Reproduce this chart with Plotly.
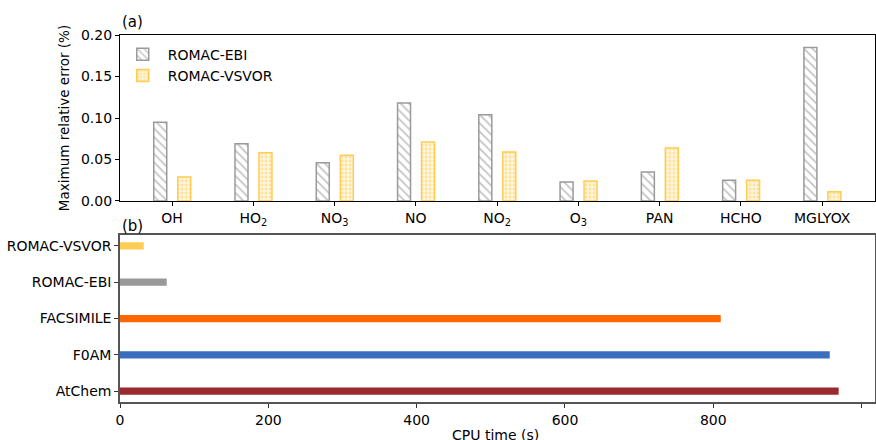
import plotly.graph_objects as go

species = ["OH", "HO<sub>2</sub>", "NO<sub>3</sub>", "NO", "NO<sub>2</sub>", "O<sub>3</sub>", "PAN", "HCHO", "MGLYOX"]
err_ebi = [0.095, 0.069, 0.046, 0.118, 0.104, 0.023, 0.035, 0.025, 0.185]
err_vsvor = [0.029, 0.058, 0.055, 0.071, 0.059, 0.024, 0.064, 0.025, 0.011]

solvers = ["AtChem", "F0AM", "FACSIMILE", "ROMAC-EBI", "ROMAC-VSVOR"]
cpu_time = [969, 957, 810, 63, 32]
solver_colors = ["#9A2A2E", "#3A6FC0", "#FF6600", "#999999", "#FFCC55"]

xpos = list(range(len(species)))
ypos = list(range(len(solvers)))

FONT = "DejaVu Sans"
FS = 14
fig = go.Figure()

fig.add_trace(go.Bar(
    x=xpos, y=err_ebi, name="ROMAC-EBI", width=0.16, offset=-0.225,
    marker=dict(color="white", line=dict(color="#9a9a9a", width=1.5),
                pattern=dict(shape="\\", fgcolor="#8a8a8a", bgcolor="white", size=6, solidity=0.3)),
    xaxis="x", yaxis="y"))
fig.add_trace(go.Bar(
    x=xpos, y=err_vsvor, name="ROMAC-VSVOR", width=0.16, offset=0.07,
    marker=dict(color="white", line=dict(color="#FFCC55", width=1.5),
                pattern=dict(shape=".", fgcolor="#FFCC55", bgcolor="#FFF6DD", size=4, solidity=0.4)),
    xaxis="x", yaxis="y"))

fig.add_trace(go.Bar(
    x=cpu_time, y=ypos, orientation="h", width=0.2, showlegend=False,
    marker=dict(color=solver_colors, line=dict(width=0)),
    xaxis="x2", yaxis="y2"))

axis_common = dict(showgrid=False, zeroline=False, ticks="outside", ticklen=4, automargin=False,
                   tickfont=dict(family=FONT, size=FS, color="black"), mirror=True, showline=True)

fig.update_layout(
    width=876, height=440,
    margin=dict(l=120, r=1, t=35, b=38, autoexpand=False),
    plot_bgcolor="white", paper_bgcolor="white",
    font=dict(family=FONT, size=FS, color="black"),
    barmode="overlay",
    xaxis=dict(domain=[0, 1], anchor="y", range=[-0.64, 8.65], tickmode="array",
               tickvals=xpos, ticktext=species, linecolor="black", linewidth=1.2,
               tickcolor="black", **axis_common),
    yaxis=dict(domain=[0.5477, 1.0], anchor="x", range=[0, 0.2], tickmode="array",
               tickvals=[0, 0.05, 0.10, 0.15, 0.20], ticktext=["0.00", "0.05", "0.10", "0.15", "0.20"],
               linecolor="black", linewidth=1.2, tickcolor="black",
               title=dict(text="Maximum relative error (%)", font=dict(family=FONT, size=13.5), standoff=8),
               **axis_common),
    xaxis2=dict(domain=[0, 1], anchor="y2", range=[0, 1018], tickmode="array",
                tickvals=[0, 200, 400, 600, 800, 1000], linecolor="#555555", linewidth=1.5,
                tickcolor="#333333", **axis_common),
    yaxis2=dict(domain=[0, 0.455], anchor="x2", range=[-0.3, 4.3], tickmode="array",
                tickvals=ypos, ticktext=solvers, linecolor="#555555", linewidth=1.5,
                tickcolor="#333333", **axis_common),
    legend=dict(x=-0.003, y=0.99, xanchor="left", yanchor="top", bgcolor="rgba(255,255,255,0)",
                font=dict(family=FONT, size=FS), tracegroupgap=2, itemwidth=40),
    annotations=[
        dict(text="(a)", x=0.0, y=1.0, xref="paper", yref="paper", xanchor="left", yanchor="bottom",
             yshift=2, showarrow=False, font=dict(family=FONT, size=15)),
        dict(text="(b)", x=0.0, y=0.455, xref="paper", yref="paper", xanchor="left", yanchor="bottom",
             yshift=-2, showarrow=False, font=dict(family=FONT, size=15)),
        dict(text="CPU time (s)", x=0.497, y=-0.09, xref="paper", yref="paper", xanchor="center",
             yanchor="middle", showarrow=False, font=dict(family=FONT, size=FS)),
    ],
)

fig.write_html("out.html", config={"displayModeBar": False},
               post_script="document.body.style.margin='0';document.body.style.padding='0';"
                           "document.body.style.overflow='hidden';")
